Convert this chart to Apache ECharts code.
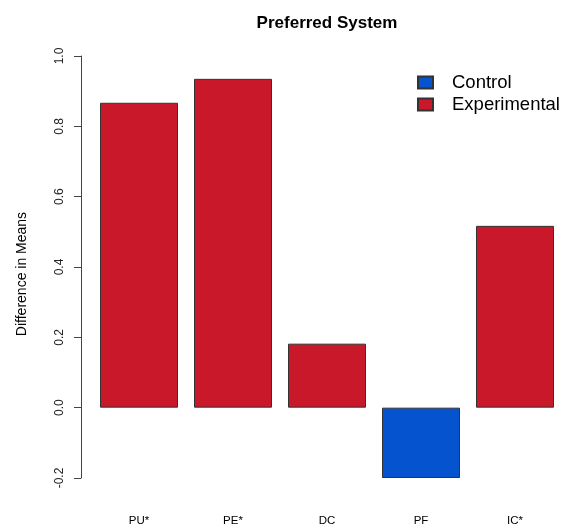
<!DOCTYPE html>
<html><head><meta charset="utf-8">
<script src="https://cdn.jsdelivr.net/npm/echarts@6/dist/echarts.min.js"></script>
<style>html,body{margin:0;padding:0;background:#fff}#c{width:564px;height:529px}</style>
</head><body><div id="c"></div>
<script>
const categories = ['PU*', 'PE*', 'DC', 'PF', 'IC*'];
const controlValues = ['-', '-', '-', -0.2, '-'];
const experimentalValues = [0.867, 0.935, 0.182, '-', 0.517];
const yTicks = [-0.2, 0.0, 0.2, 0.4, 0.6, 0.8, 1.0];
const FONT = '"Liberation Sans", Arial, sans-serif';
const chart = echarts.init(document.getElementById('c'), null, {renderer: 'canvas'});
chart.setOption({
  animation: false,
  backgroundColor: '#fff',
  title: {
    text: 'Preferred System', left: 322, top: 10, textAlign: 'center',
    textStyle: {fontFamily: FONT, fontSize: 17, fontWeight: 'bold', color: '#000'}
  },
  legend: {
    orient: 'vertical', left: 412, top: 67, itemWidth: 15, itemHeight: 12, itemGap: 1,
    icon: 'rect', data: ['Control', 'Experimental'],
    textStyle: {fontFamily: FONT, fontSize: 18.5, lineHeight: 21, color: '#000', padding: [0, 0, 0, 14]}
  },
  grid: {left: 92, right: 2, top: 56, bottom: 51, containLabel: false},
  xAxis: {
    type: 'category', data: categories,
    axisLine: {show: false}, axisTick: {show: false}, splitLine: {show: false},
    axisLabel: {fontFamily: FONT, fontSize: 11.5, color: '#000', margin: 37}
  },
  yAxis: {
    type: 'value', min: yTicks[0], max: yTicks[yTicks.length - 1], interval: 0.2,
    offset: 11, splitLine: {show: false},
    axisLine: {show: true, lineStyle: {color: '#444', width: 1}},
    axisTick: {show: true, length: 7, lineStyle: {color: '#444'}},
    axisLabel: {fontFamily: FONT, fontSize: 12, color: '#222', rotate: 90, margin: 15,
      formatter: v => v.toFixed(1)},
    name: 'Difference in Means', nameLocation: 'middle', nameGap: 52, nameRotate: 90,
    nameTextStyle: {fontFamily: FONT, fontSize: 14, color: '#000', padding: [0, 14, 0, 0]}
  },
  series: [
    {name: 'Control', type: 'bar', stack: 'a', data: controlValues, barWidth: 78,
      itemStyle: {color: '#0553CF', borderColor: '#333', borderWidth: 1}},
    {name: 'Experimental', type: 'bar', stack: 'a', data: experimentalValues, barWidth: 78,
      itemStyle: {color: '#C9182A', borderColor: '#333', borderWidth: 1}}
  ]
});
</script></body></html>
